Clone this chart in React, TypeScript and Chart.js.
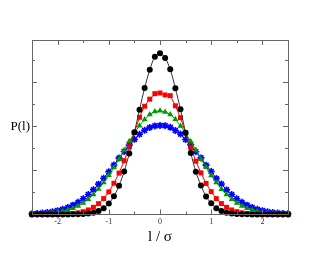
import React, { useEffect, useRef } from "react";
import { Chart, registerables } from "chart.js";

Chart.register(...registerables);

const xValues = [
  -2.5, -2.4, -2.3, -2.2, -2.1, -2.0, -1.9, -1.8, -1.7, -1.6, -1.5, -1.4, -1.3, -1.2, -1.1, -1.0, -0.9, -0.8, -0.7, -0.6, -0.5, -0.4, -0.3, -0.2, -0.1,
  0.0, 0.1, 0.2, 0.3, 0.4, 0.5, 0.6, 0.7, 0.8, 0.9, 1.0, 1.1, 1.2, 1.3, 1.4, 1.5, 1.6, 1.7, 1.8, 1.9, 2.0, 2.1, 2.2, 2.3, 2.4, 2.5,
];

const blackValues = [
  0, 0, 0, 0, 0, 0, 0, 0.0001, 0.0003, 0.0007, 0.0017, 0.0037, 0.0076, 0.015, 0.028, 0.049, 0.082, 0.13, 0.194, 0.276, 0.372, 0.474, 0.573, 0.655, 0.714,
  0.73, 0.709, 0.657, 0.571, 0.476, 0.37, 0.278, 0.193, 0.131, 0.081, 0.05, 0.028, 0.015, 0.0077, 0.0036, 0.0017, 0.0007, 0.0003, 0.0001, 0, 0, 0, 0, 0, 0, 0,
];

const redValues = [
  0, 0.0001, 0.0002, 0.0003, 0.0005, 0.0008, 0.0013, 0.0023, 0.0042, 0.0074, 0.0124, 0.0203, 0.032, 0.0487, 0.0717, 0.102, 0.141, 0.187, 0.243, 0.305, 0.37, 0.44, 0.49, 0.522, 0.547,
  0.55, 0.541, 0.538, 0.492, 0.438, 0.368, 0.303, 0.241, 0.188, 0.14, 0.103, 0.0715, 0.049, 0.032, 0.0203, 0.0125, 0.0074, 0.0042, 0.0023, 0.0013, 0.0008, 0.0005, 0.0003, 0.0002, 0.0001, 0,
];

const greenValues = [
  0.001, 0.0017, 0.0027, 0.0041, 0.0063, 0.0094, 0.0138, 0.02, 0.028, 0.038, 0.052, 0.069, 0.09, 0.115, 0.144, 0.177, 0.213, 0.251, 0.291, 0.331, 0.368, 0.402, 0.43, 0.452, 0.466,
  0.47, 0.464, 0.453, 0.431, 0.401, 0.369, 0.33, 0.292, 0.25, 0.214, 0.176, 0.145, 0.114, 0.09, 0.069, 0.052, 0.038, 0.028, 0.02, 0.0138, 0.0094, 0.0063, 0.0041, 0.0027, 0.0017, 0.001,
];

const blueValues = [
  0.0027, 0.004, 0.006, 0.0085, 0.012, 0.017, 0.023, 0.031, 0.042, 0.055, 0.071, 0.09, 0.112, 0.137, 0.164, 0.193, 0.224, 0.255, 0.285, 0.314, 0.34, 0.363, 0.381, 0.394, 0.401,
  0.403, 0.402, 0.395, 0.38, 0.364, 0.339, 0.315, 0.284, 0.256, 0.223, 0.194, 0.163, 0.138, 0.111, 0.09, 0.071, 0.055, 0.042, 0.031, 0.023, 0.017, 0.012, 0.0085, 0.006, 0.004, 0.0027,
];

const xTickLabels = [-2, -1, 0, 1, 2];
const xMinorTicks = [-1.5, -0.5, 0.5, 1.5];
const yMajorTicks = [0.2, 0.4, 0.6];
const yMinorTicks = [0.1, 0.3, 0.5, 0.7];
const xTitle = "l / σ";
const yTitle = "P(l)";

const toPoints = (ys: number[]) => ys.map((y, i) => ({ x: xValues[i], y }));

const framePlugin = {
  id: "frameTicks",
  afterDraw(chart: any) {
    const { ctx, chartArea, scales } = chart;
    const { left, right, top, bottom } = chartArea;
    const xs = scales.x;
    const ys = scales.y;
    ctx.save();
    ctx.strokeStyle = "#666666";
    ctx.lineWidth = 1;
    ctx.strokeRect(Math.round(left) + 0.5, Math.round(top) + 0.5, Math.round(right - left), Math.round(bottom - top));
    const line = (x1: number, y1: number, x2: number, y2: number) => {
      ctx.beginPath();
      ctx.moveTo(x1, y1);
      ctx.lineTo(x2, y2);
      ctx.stroke();
    };
    const major = 5;
    const minor = 3;
    xTickLabels.forEach((v) => {
      const px = Math.round(xs.getPixelForValue(v)) + 0.5;
      line(px, bottom, px, bottom - major);
      line(px, top, px, top + major);
    });
    xMinorTicks.forEach((v) => {
      const px = Math.round(xs.getPixelForValue(v)) + 0.5;
      line(px, bottom, px, bottom - minor);
      line(px, top, px, top + minor);
    });
    yMajorTicks.forEach((v) => {
      const py = Math.round(ys.getPixelForValue(v)) + 0.5;
      line(left, py, left + major, py);
      line(right, py, right - major, py);
    });
    yMinorTicks.forEach((v) => {
      const py = Math.round(ys.getPixelForValue(v)) + 0.5;
      line(left, py, left + minor, py);
      line(right, py, right - minor, py);
    });
    ctx.fillStyle = "#000000";
    ctx.font = '13px "Liberation Serif"';
    ctx.textAlign = "right";
    ctx.textBaseline = "middle";
    ctx.fillText(yTitle, left - 2, ys.getPixelForValue(0.4));
    ctx.restore();
  },
};

export default function App() {
  const canvasRef = useRef<HTMLCanvasElement | null>(null);

  useEffect(() => {
    document.body.style.margin = "0";
    const canvas = canvasRef.current;
    if (!canvas) return;
    const chart = new Chart(canvas, {
      type: "line",
      data: {
        datasets: [
          {
            label: "black",
            data: toPoints(blackValues),
            borderColor: "#333333",
            borderWidth: 1,
            backgroundColor: "#000000",
            pointBackgroundColor: "#000000",
            pointBorderColor: "#000000",
            pointStyle: "circle",
            pointRadius: 3,
            pointBorderWidth: 0,
            tension: 0.3,
            clip: false,
          },
          {
            label: "red",
            data: toPoints(redValues),
            borderColor: "#ff0000",
            borderWidth: 1,
            pointBackgroundColor: "#ff0000",
            pointBorderColor: "#ff0000",
            pointStyle: "rect",
            pointRadius: 3.5,
            pointBorderWidth: 0,
            clip: false,
          },
          {
            label: "green",
            data: toPoints(greenValues),
            borderColor: "#009900",
            borderWidth: 1,
            pointBackgroundColor: "#009900",
            pointBorderColor: "#009900",
            pointStyle: "triangle",
            pointRadius: 3.5,
            pointBorderWidth: 0,
            clip: false,
          },
          {
            label: "blue",
            data: toPoints(blueValues),
            borderColor: "#0000ff",
            borderWidth: 1,
            pointBackgroundColor: "#0000ff",
            pointBorderColor: "#0000ff",
            pointStyle: "star",
            pointRadius: 3.5,
            pointBorderWidth: 1.6,
            clip: false,
          },
        ],
      },
      options: {
        animation: false,
        responsive: false,
        events: [],
        layout: { padding: { left: 32, right: 37, top: 40, bottom: 10 } },
        plugins: { legend: { display: false }, tooltip: { enabled: false } },
        scales: {
          x: {
            type: "linear",
            min: -2.5,
            max: 2.5,
            afterBuildTicks: (scale: any) => {
              scale.ticks = xTickLabels.map((v) => ({ value: v }));
            },
            grid: { display: false, drawTicks: false },
            border: { display: false },
            ticks: {
              color: "#333333",
              padding: 3,
              font: { family: '"Liberation Serif"', size: 8 },
              callback: (v: any) => String(v),
            },
            title: {
              display: true,
              text: xTitle,
              color: "#000000",
              font: { family: '"Liberation Serif"', size: 15, lineHeight: 1 },
              padding: { top: 0, bottom: 0 },
            },
          },
          y: {
            type: "linear",
            display: false,
            min: 0,
            max: 0.79,
          },
        },
      },
      plugins: [framePlugin],
    });
    return () => chart.destroy();
  }, []);

  return (
    <div style={{ position: "absolute", left: 0, top: 0, width: 325, height: 255, background: "#ffffff" }}>
      <canvas ref={canvasRef} width={325} height={255} style={{ display: "block" }} />
    </div>
  );
}
